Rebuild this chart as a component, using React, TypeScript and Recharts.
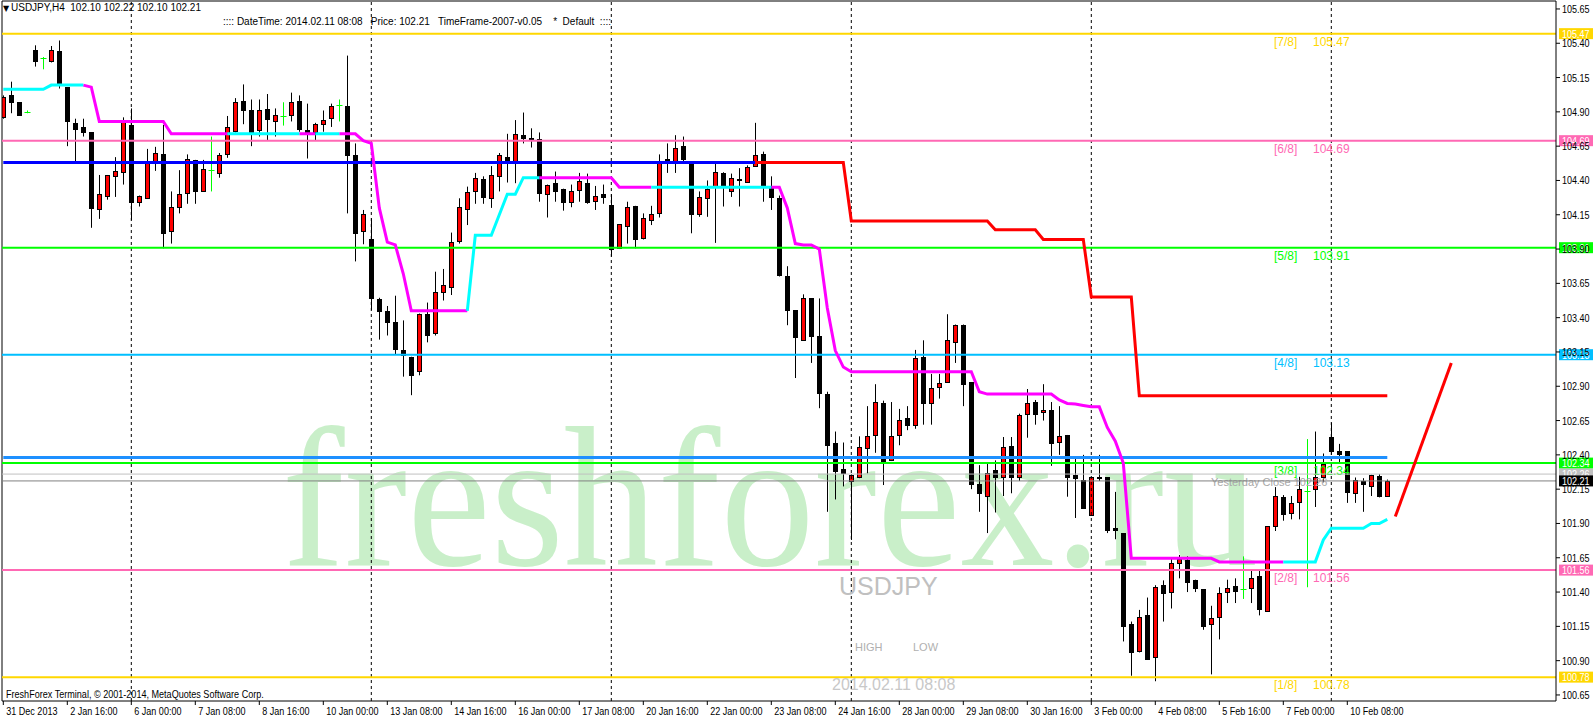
import React from 'react';
import { ComposedChart, Bar, Line, XAxis, YAxis, ReferenceLine } from 'recharts';

const CHART_W = 1596;
const CHART_H = 720;
const UI_FONT = "'Liberation Sans', Arial, sans-serif";
const LABEL_FONT = "'Liberation Sans', Arial, sans-serif";

// ---- H4 candles (bar index 0 = 31 Dec 2013) ----
const opens = [
  104.86, 105.02, 104.97, 104.90, 105.35, 105.29, 105.27, 105.34, 105.08, 104.82,
  104.79, 104.75, 104.19, 104.29, 104.43, 104.46, 104.805, 104.245, 104.27, 104.535,
  104.59, 104.03, 104.21, 104.31, 104.55, 104.325, 104.475, 104.455, 104.59, 104.76,
  104.98, 104.91, 104.77, 104.92, 104.835, 104.87, 104.88, 104.98, 104.77, 104.755,
  104.81, 104.855, 104.95, 104.94, 104.585, 104.03, 103.97, 103.535, 103.45, 103.37,
  103.165, 103.115, 103.01, 103.43, 103.285, 103.59, 103.62, 103.96, 104.19, 104.32,
  104.41, 104.27, 104.43, 104.57, 104.535, 104.73, 104.71, 104.70, 104.30, 104.38,
  104.34, 104.24, 104.33, 104.38, 104.25, 104.30, 104.22, 103.905, 104.07, 104.215,
  103.98, 104.11, 104.16, 104.56, 104.545, 104.65, 104.535, 104.155, 104.27, 104.355,
  104.455, 104.325, 104.41, 104.39, 104.505, 104.59, 104.35, 104.27, 103.70, 103.455,
  103.235, 103.54, 103.265, 102.84, 102.49, 102.297, 102.21, 102.235, 102.45, 102.545,
  102.775, 102.36, 102.545, 102.67, 102.62, 103.115, 102.775, 102.895, 102.93, 103.22,
  103.345, 102.93, 102.19, 102.10, 102.29, 102.24, 102.465, 102.24, 102.695, 102.783,
  102.715, 102.725, 102.495, 102.545, 102.25, 102.215, 101.965, 102.235, 102.235, 101.865,
  101.83, 101.17, 100.97, 101.23, 100.93, 101.45, 101.40, 101.615, 101.635, 101.49,
  101.42, 101.17, 101.215, 101.40, 101.445, 101.425, 101.43, 101.515, 101.265, 101.88,
  102.09, 101.975, 102.06, 102.14, 102.15, 102.24, 102.53, 102.43, 102.425, 102.125,
  102.21, 102.175, 102.245, 102.10,
];
const highs = [
  105.02, 105.12, 104.97, 104.91, 105.385, 105.30, 105.38, 105.42, 105.08, 104.85,
  104.85, 104.75, 104.44, 104.44, 104.57, 104.86, 104.925, 104.29, 104.63, 104.645,
  104.805, 104.32, 104.475, 104.59, 104.55, 104.55, 104.72, 104.60, 104.87, 105.00,
  105.10, 104.99, 104.99, 105.03, 104.925, 104.97, 105.04, 105.02, 104.96, 104.82,
  104.91, 104.96, 104.99, 105.31, 104.67, 104.185, 104.125, 103.545, 103.485, 103.56,
  103.38, 103.115, 103.43, 103.51, 103.735, 103.755, 104.02, 104.27, 104.355, 104.455,
  104.43, 104.505, 104.60, 104.74, 104.84, 104.895, 104.78, 104.75, 104.37, 104.465,
  104.34, 104.37, 104.455, 104.45, 104.36, 104.37, 104.30, 104.08, 104.245, 104.215,
  104.16, 104.215, 104.59, 104.67, 104.73, 104.72, 104.535, 104.32, 104.40, 104.535,
  104.46, 104.45, 104.49, 104.51, 104.82, 104.61, 104.43, 104.29, 103.775, 103.455,
  103.57, 103.54, 103.54, 102.86, 102.57, 102.49, 102.26, 102.535, 102.755, 102.915,
  102.795, 102.785, 102.735, 102.755, 103.165, 103.235, 102.99, 102.99, 103.425, 103.35,
  103.35, 102.93, 102.325, 102.34, 102.36, 102.53, 102.53, 102.70, 102.88, 102.80,
  102.915, 102.785, 102.755, 102.545, 102.375, 102.40, 102.24, 102.40, 102.235, 102.13,
  101.83, 101.185, 101.27, 101.36, 101.45, 101.485, 101.645, 101.67, 101.66, 101.49,
  101.42, 101.30, 101.435, 101.49, 101.50, 101.66, 101.555, 101.555, 101.88, 102.165,
  102.107, 102.10, 102.24, 102.515, 102.57, 102.41, 102.635, 102.48, 102.425, 102.235,
  102.23, 102.255, 102.26, 102.22,
];
const lows = [
  104.85, 104.89, 104.88, 104.89, 105.23, 105.21, 105.26, 105.07, 104.65, 104.54,
  104.72, 104.055, 104.12, 104.26, 104.28, 104.37, 104.11, 104.21, 104.27, 104.47,
  103.905, 103.94, 104.16, 104.23, 104.23, 104.32, 104.32, 104.42, 104.565, 104.75,
  104.81, 104.65, 104.72, 104.695, 104.72, 104.80, 104.83, 104.755, 104.56, 104.695,
  104.755, 104.79, 104.83, 104.16, 103.81, 103.935, 103.455, 103.24, 103.27, 103.13,
  102.97, 102.835, 102.98, 103.22, 103.27, 103.525, 103.565, 103.94, 104.075, 104.23,
  104.23, 104.20, 104.32, 104.385, 104.38, 104.67, 104.64, 104.245, 104.13, 104.245,
  104.18, 104.205, 104.245, 104.23, 104.185, 104.23, 103.845, 103.90, 103.94, 103.905,
  103.97, 104.075, 104.13, 104.455, 104.455, 104.54, 104.015, 104.135, 104.135, 103.945,
  104.21, 104.28, 104.21, 104.39, 104.50, 104.245, 104.185, 103.70, 103.345, 102.96,
  103.23, 103.07, 102.74, 101.985, 102.075, 102.17, 101.78, 102.23, 102.265, 102.415,
  102.18, 102.355, 102.47, 102.58, 102.59, 102.62, 102.62, 102.81, 102.93, 103.07,
  102.755, 102.15, 101.985, 101.83, 101.98, 102.10, 102.12, 102.21, 102.525, 102.62,
  102.65, 102.32, 102.40, 102.095, 101.94, 102.01, 101.96, 102.21, 101.83, 101.785,
  101.04, 100.79, 100.96, 100.91, 100.75, 101.185, 101.28, 101.50, 101.40, 101.40,
  101.125, 100.80, 101.055, 101.32, 101.32, 101.35, 101.32, 101.23, 101.26, 101.845,
  101.92, 101.93, 101.93, 101.435, 102.02, 102.20, 102.40, 102.34, 102.05, 102.05,
  101.985, 102.10, 102.09, 102.10,
];
const closes = [
  105.01, 104.97, 104.88, 104.90, 105.27, 105.29, 105.35, 105.095, 104.83, 104.775,
  104.755, 104.20, 104.30, 104.44, 104.47, 104.84, 104.24, 104.285, 104.54, 104.60,
  104.02, 104.205, 104.30, 104.56, 104.32, 104.48, 104.475, 104.585, 104.79, 104.97,
  104.915, 104.755, 104.91, 104.85, 104.88, 104.87, 104.97, 104.775, 104.745, 104.81,
  104.84, 104.94, 104.95, 104.585, 104.02, 104.155, 103.54, 103.45, 103.37, 103.175,
  103.125, 102.985, 103.425, 103.27, 103.585, 103.64, 103.95, 104.205, 104.315, 104.42,
  104.28, 104.44, 104.585, 104.54, 104.74, 104.71, 104.70, 104.31, 104.37, 104.32,
  104.245, 104.325, 104.395, 104.24, 104.29, 104.28, 103.90, 104.08, 104.205, 103.97,
  104.125, 104.155, 104.545, 104.54, 104.64, 104.56, 104.155, 104.28, 104.34, 104.46,
  104.35, 104.42, 104.40, 104.50, 104.585, 104.37, 104.28, 103.71, 103.455, 103.26,
  103.54, 103.265, 102.85, 102.475, 102.285, 102.27, 102.255, 102.455, 102.535, 102.783,
  102.35, 102.535, 102.655, 102.62, 103.105, 102.78, 102.885, 102.925, 103.235, 103.35,
  102.92, 102.185, 102.12, 102.27, 102.235, 102.455, 102.235, 102.69, 102.775, 102.70,
  102.73, 102.485, 102.535, 102.24, 102.23, 102.015, 102.24, 102.23, 101.855, 101.852,
  101.155, 100.96, 101.215, 100.915, 101.435, 101.395, 101.61, 101.64, 101.475, 101.43,
  101.155, 101.21, 101.395, 101.43, 101.41, 101.425, 101.505, 101.28, 101.88, 102.10,
  101.97, 102.05, 102.15, 102.14, 102.235, 102.33, 102.43, 102.405, 102.13, 102.22,
  102.19, 102.255, 102.10, 102.21,
];

// ---- trailing trend line (cyan = up, magenta = down) ----
const trend = [
  105.064, 105.064, 105.064, 105.064, 105.064, 105.064, 105.095, 105.095, 105.095, 105.095,
  105.095, 105.08, 104.83, 104.83, 104.83, 104.83, 104.83, 104.83, 104.83, 104.83,
  104.83, 104.74, 104.74, 104.74, 104.74, 104.74, 104.74, 104.74, 104.74, 104.74,
  104.74, 104.74, 104.74, 104.74, 104.74, 104.74, 104.74, 104.74, 104.74, 104.74,
  104.74, 104.74, 104.74, 104.74, 104.74, 104.69, 104.67, 104.20, 103.95, 103.93,
  103.72, 103.45, 103.45, 103.45, 103.45, 103.45, 103.45, 103.45, 103.45, 104.00,
  104.00, 104.00, 104.15, 104.30, 104.30, 104.42, 104.42, 104.42, 104.42, 104.42,
  104.42, 104.42, 104.42, 104.42, 104.42, 104.42, 104.42, 104.35, 104.35, 104.35,
  104.35, 104.35, 104.35, 104.35, 104.35, 104.35, 104.35, 104.35, 104.35, 104.35,
  104.35, 104.35, 104.35, 104.35, 104.35, 104.35, 104.35, 104.35, 104.20, 103.94,
  103.93, 103.93, 103.90, 103.47, 103.16, 103.04, 103.006, 103.006, 103.006, 103.006,
  103.006, 103.006, 103.006, 103.006, 103.006, 103.006, 103.006, 103.006, 103.006, 103.006,
  103.006, 103.006, 102.86, 102.843, 102.843, 102.843, 102.843, 102.843, 102.843, 102.843,
  102.843, 102.843, 102.80, 102.775, 102.77, 102.76, 102.75, 102.75, 102.60, 102.50,
  102.34, 101.646, 101.646, 101.646, 101.646, 101.646, 101.646, 101.646, 101.646, 101.646,
  101.646, 101.646, 101.62, 101.62, 101.62, 101.62, 101.62, 101.62, 101.62, 101.62,
  101.62, 101.62, 101.62, 101.62, 101.62, 101.78, 101.865, 101.865, 101.865, 101.865,
  101.865, 101.90, 101.90, 101.93,
];
const upRanges = [[0, 10], [28, 37], [39, 42], [58, 67], [81, 96], [160, 173]];
const downRanges = [[10, 28], [37, 39], [42, 58], [67, 81], [96, 160]];

// ---- pivot / support lines ----
const prevPivot = { from: 0, to: 94, value: 104.53 };
const pivotSteps = [
  { from: 94, to: 105, value: 104.53 },
  { from: 106, to: 123, value: 104.105 },
  { from: 124, to: 129, value: 104.04 },
  { from: 130, to: 135, value: 103.97 },
  { from: 136, to: 141, value: 103.55 },
  { from: 142, to: 173, value: 102.83 },
];
const supportLevel = { from: 0, to: 173, value: 102.38 };
const projectionPoints = [{ i: 174, value: 101.95 }, { i: 181, value: 103.07 }];

// ---- Murrey math levels ----
const murreyLevels = [
  { value: 105.47, tag: '[7/8]', color: '#FFD700' },
  { value: 104.69, tag: '[6/8]', color: '#FF69B4' },
  { value: 103.91, tag: '[5/8]', color: '#00FF00' },
  { value: 103.13, tag: '[4/8]', color: '#00BFFF' },
  { value: 102.34, tag: '[3/8]', color: '#00FF00' },
  { value: 101.56, tag: '[2/8]', color: '#FF69B4' },
  { value: 100.78, tag: '[1/8]', color: '#FFD700' },
];
const yesterdayClose = 102.26;
const lastPrice = 102.21;

const weekSeparators = [16, 46, 76, 106, 136, 166];
const dateTickIndex = [0, 8, 16, 24, 32, 40, 48, 56, 64, 72, 80, 88, 96, 104, 112, 120, 128, 136, 144, 152, 160, 168];
const dateTickLabels = [
  '31 Dec 2013', '2 Jan 16:00', '6 Jan 00:00', '7 Jan 08:00', '8 Jan 16:00', '10 Jan 00:00',
  '13 Jan 08:00', '14 Jan 16:00', '16 Jan 00:00', '17 Jan 08:00', '20 Jan 16:00', '22 Jan 00:00',
  '23 Jan 08:00', '24 Jan 16:00', '28 Jan 00:00', '29 Jan 08:00', '30 Jan 16:00', '3 Feb 00:00',
  '4 Feb 08:00', '5 Feb 16:00', '7 Feb 00:00', '10 Feb 08:00',
];
const priceTicks = [
  100.65, 100.9, 101.15, 101.4, 101.65, 101.9, 102.15, 102.4, 102.65, 102.9, 103.15,
  103.4, 103.65, 103.9, 104.15, 104.4, 104.65, 104.9, 105.15, 105.4, 105.65,
];

const X_DOMAIN: [number, number] = [-0.1625, 194.0875];
const Y_DOMAIN: [number, number] = [100.606, 105.708];
const LAST_INDEX = 181;

// Arial advance widths (em) used to emulate the narrow terminal font
const CHAR_W: Record<string, number> = {
  ' ': 0.278, '.': 0.278, ':': 0.278, ',': 0.278, '-': 0.333, '©': 0.737, '[': 0.278, ']': 0.278, '/': 0.278,
  A: 0.667, B: 0.667, C: 0.722, D: 0.722, E: 0.667, F: 0.611, G: 0.778, H: 0.722, I: 0.278, J: 0.5, K: 0.667,
  L: 0.556, M: 0.833, N: 0.722, O: 0.778, P: 0.667, Q: 0.778, R: 0.722, S: 0.667, T: 0.611, U: 0.722, V: 0.667,
  W: 0.944, X: 0.667, Y: 0.667, Z: 0.611,
  a: 0.556, b: 0.556, c: 0.5, d: 0.556, e: 0.556, f: 0.278, g: 0.556, h: 0.556, i: 0.222, j: 0.222, k: 0.5,
  l: 0.222, m: 0.833, n: 0.556, o: 0.556, p: 0.556, q: 0.556, r: 0.333, s: 0.5, t: 0.278, u: 0.556, v: 0.5,
  w: 0.722, x: 0.5, y: 0.5, z: 0.5,
};
const textWidth = (s: string, size: number) => {
  let w = 0;
  for (const ch of s) w += CHAR_W[ch] ?? 0.556;
  return w * size;
};
const NARROW = 0.82;

function NarrowText(props: any) {
  const { children, size, ...rest } = props;
  const str = String(children);
  return (
    <text {...rest} fontSize={size} fontFamily={UI_FONT} textLength={textWidth(str, size) * NARROW} lengthAdjust="spacingAndGlyphs">{str}</text>
  );
}

const inRanges = (i: number, ranges: number[][]) => ranges.some(([a, b]) => i >= a && i <= b);

const rows: any[] = [];
for (let i = 0; i <= LAST_INDEX; i++) {
  const r: any = { i };
  if (i < opens.length) {
    r.o = opens[i];
    r.h = highs[i];
    r.l = lows[i];
    r.c = closes[i];
    r.range = [lows[i], highs[i]];
    r.up = inRanges(i, upRanges) ? trend[i] : null;
    r.down = inRanges(i, downRanges) ? trend[i] : null;
  }
  r.prev = i >= prevPivot.from && i <= prevPivot.to ? prevPivot.value : null;
  const st = pivotSteps.find((s) => i >= s.from && i <= s.to);
  r.pivot = st ? st.value : null;
  r.support = i >= supportLevel.from && i <= supportLevel.to ? supportLevel.value : null;
  const pp = projectionPoints.find((p) => p.i === i);
  r.proj = pp ? pp.value : null;
  rows.push(r);
}

function Candle(props: any) {
  const { x, y, width, height, payload } = props;
  if (!payload || payload.o == null || x == null || y == null) return null;
  const { o, h, l, c } = payload;
  const top = Math.min(y, y + height);
  const full = Math.abs(height);
  const span = h - l;
  const toY = (p: number) => (span > 0 ? top + ((h - p) / span) * full : top);
  const cx = Math.round(x + width / 2) + 0.5;
  const yH = toY(h);
  const yL = toY(l);
  if (Math.abs(o - c) < 1e-9) {
    const yc = Math.round(toY(c)) + 0.5;
    return (
      <g>
        <line x1={cx} x2={cx} y1={yH} y2={yL} stroke="#00FF00" strokeWidth={1} />
        <line x1={cx - 3} x2={cx + 3} y1={yc} y2={yc} stroke="#00FF00" strokeWidth={1} />
      </g>
    );
  }
  const upBar = c > o;
  const bTop = Math.round(toY(Math.max(o, c))) + 0.5;
  const bBot = Math.round(toY(Math.min(o, c))) + 0.5;
  return (
    <g>
      <line x1={cx} x2={cx} y1={yH} y2={yL} stroke="#000" strokeWidth={1} />
      <rect x={cx - 2} y={bTop} width={4} height={Math.max(bBot - bTop, 1)} fill={upBar ? '#FF0000' : '#000000'} stroke="#000" strokeWidth={1} />
    </g>
  );
}

function LevelLabel(props: any) {
  const { viewBox, tag, text, color, boxColor, value } = props;
  if (!viewBox) return null;
  const right = viewBox.x + viewBox.width;
  const y = viewBox.y;
  return (
    <g>
      {tag ? (
        <text x={right - 282} y={y + 12} fill={color} fontSize={12} fontFamily={LABEL_FONT}>{tag}</text>
      ) : null}
      {tag ? (
        <text x={right - 243} y={y + 12} fill={color} fontSize={12} fontFamily={LABEL_FONT}>{value.toFixed(2)}</text>
      ) : null}
      {text ? (
        <text x={right - 345} y={y + 11.5} fill={color} fontSize={11} fontFamily={LABEL_FONT}>{text}</text>
      ) : null}
      <rect x={right + 3} y={y - 5.5} width={34} height={11} fill={boxColor} />
      <NarrowText x={right + 6} y={y + 4} fill="#FFFFFF" size={11}>{value.toFixed(2)}</NarrowText>
    </g>
  );
}

function DateTick(props: any) {
  const { x, y, payload } = props;
  const k = dateTickIndex.indexOf(payload.value);
  return (
    <NarrowText x={x + 3} y={y + 8} fill="#000" size={11}>{k >= 0 ? dateTickLabels[k] : ''}</NarrowText>
  );
}

function PriceTick(props: any) {
  const { x, y, payload } = props;
  return (
    <NarrowText x={x} y={y + 4} fill="#000" size={11}>{Number(payload.value).toFixed(2)}</NarrowText>
  );
}

export default function App() {
  return (
    <div style={{ position: 'fixed', left: 0, top: 0, width: CHART_W, height: CHART_H, background: '#fff', overflow: 'hidden' }}>
      <svg width={CHART_W} height={CHART_H} style={{ position: 'absolute', left: 0, top: 0 }}>
        <text x={282} y={565} fill="#C9EFC9" fontSize={200} fontFamily="'Liberation Serif', 'Times New Roman', serif" textLength={976} lengthAdjust="spacingAndGlyphs">freshforex.ru</text>
      </svg>
      <div style={{ position: 'absolute', left: 0, top: 0 }}>
        <ComposedChart width={CHART_W} height={CHART_H} data={rows} margin={{ top: 1, right: 0, bottom: 0, left: 2 }}>
          <XAxis dataKey="i" type="number" domain={X_DOMAIN} allowDataOverflow ticks={dateTickIndex} interval={0} tick={<DateTick />} tickSize={4} tickLine={{ stroke: '#000' }} axisLine={{ stroke: '#000' }} height={19} />
          <YAxis orientation="right" type="number" domain={Y_DOMAIN} allowDataOverflow ticks={priceTicks} interval={0} tick={<PriceTick />} tickSize={4} tickLine={{ stroke: '#000' }} axisLine={{ stroke: '#000' }} width={40} />
          <ReferenceLine y={Y_DOMAIN[1]} stroke="#000" ifOverflow="visible" />
          <ReferenceLine x={X_DOMAIN[0]} stroke="#000" ifOverflow="visible" />
          {weekSeparators.map((w) => (
            <ReferenceLine key={'w' + w} x={w} stroke="#000" strokeDasharray="3 3" ifOverflow="visible" />
          ))}
          <Bar dataKey="range" shape={(p: any) => <Candle {...p} />} barSize={5} isAnimationActive={false} />
          {murreyLevels.map((m) => (
            <ReferenceLine key={'m' + m.value} y={m.value} stroke={m.color} strokeWidth={2} ifOverflow="visible"
              label={<LevelLabel tag={m.tag} color={m.color} boxColor={m.color} value={m.value} />} />
          ))}
          <ReferenceLine y={yesterdayClose} stroke="#C0C0C0" strokeWidth={1} ifOverflow="visible"
            label={<LevelLabel text={'Yesterday Close ' + yesterdayClose.toFixed(2)} color="#A8A8A8" boxColor="#C0C0C0" value={yesterdayClose} />} />
          <ReferenceLine y={lastPrice} stroke="#808080" strokeWidth={1} ifOverflow="visible"
            label={<LevelLabel color="#808080" boxColor="#000000" value={lastPrice} />} />
          <Line dataKey="support" stroke="#1E90FF" strokeWidth={3} dot={false} isAnimationActive={false} connectNulls={false} />
          <Line dataKey="prev" stroke="#0000FF" strokeWidth={3} dot={false} isAnimationActive={false} connectNulls={false} />
          <Line dataKey="pivot" stroke="#FF0000" strokeWidth={3} dot={false} isAnimationActive={false} connectNulls={false} />
          <Line dataKey="proj" stroke="#FF0000" strokeWidth={3} dot={false} isAnimationActive={false} connectNulls />
          <Line dataKey="down" stroke="#FF00FF" strokeWidth={3} dot={false} isAnimationActive={false} connectNulls={false} />
          <Line dataKey="up" stroke="#00FFFF" strokeWidth={3} dot={false} isAnimationActive={false} connectNulls={false} />
        </ComposedChart>
      </div>
      <svg width={CHART_W} height={CHART_H} style={{ position: 'absolute', left: 0, top: 0, pointerEvents: 'none' }}>
        <text x={3} y={11} fontSize={8} fontFamily="'DejaVu Sans', sans-serif" fill="#000">▼</text>
        <text x={11} y={11} fontSize={10} fontFamily={LABEL_FONT} fill="#000" style={{ whiteSpace: 'pre' }}>{'USDJPY,H4  102.10 102.22 102.10 102.21'}</text>
        <text x={223} y={25} fontSize={10} fontFamily={LABEL_FONT} fill="#000" style={{ whiteSpace: 'pre' }}>{':::: DateTime: 2014.02.11 08:08   Price: 102.21   TimeFrame-2007-v0.05    *  Default  ::::'}</text>
        <NarrowText x={6} y={698} fill="#000" size={11}>FreshForex Terminal, © 2001-2014, MetaQuotes Software Corp.</NarrowText>
        <text x={839} y={595} fontSize={25} fontFamily={LABEL_FONT} fill="#C0C0C0">USDJPY</text>
        <text x={855} y={651} fontSize={11} fontFamily={LABEL_FONT} fill="#B0B0B0">HIGH</text>
        <text x={913} y={651} fontSize={11} fontFamily={LABEL_FONT} fill="#B0B0B0">LOW</text>
        <text x={832} y={690} fontSize={16} fontFamily={LABEL_FONT} fill="#C8C8C8">2014.02.11 08:08</text>
      </svg>
    </div>
  );
}
